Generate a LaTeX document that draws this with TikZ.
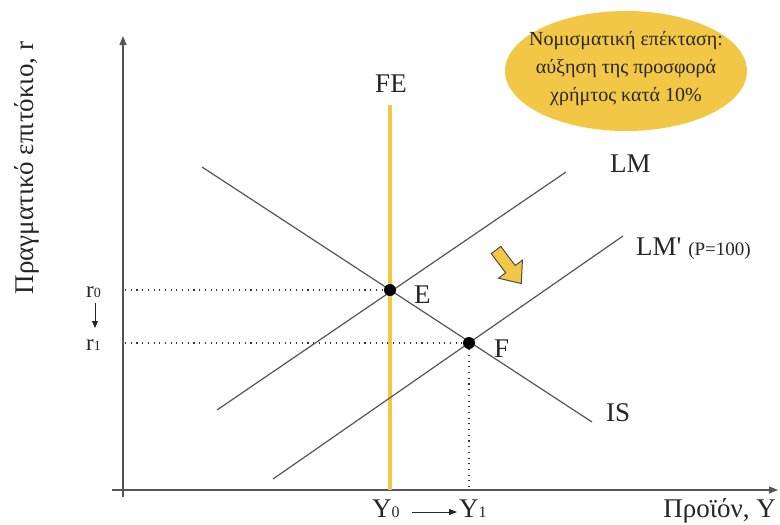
\documentclass[tikz,border=0pt]{standalone}
\usepackage{fontspec}
\setmainfont{Liberation Serif}
\usetikzlibrary{arrows.meta}
\definecolor{gold}{HTML}{F3C746}
\definecolor{curvegray}{HTML}{555555}

\begin{document}
\begin{tikzpicture}[
    x=1pt, y=-1pt,
    curve/.style={draw=curvegray, line width=1.2pt},
    axis/.style={draw=curvegray, line width=1.2pt, -{Triangle[length=9pt,width=7pt]}},
    guide/.style={draw=black!80, line width=1.1pt, dash pattern=on 1.1pt off 4.6pt},
    dot/.style={circle, fill=black, inner sep=0pt, minimum size=12pt},
    lbl/.style={font=\fontsize{27}{29}\selectfont, inner sep=0pt, text=black!85},
    every node/.style={text=black!85}
]
\useasboundingbox[fill=white] (0,0) rectangle (780,525);

% Axes
\coordinate (ybot) at (123,497);
\coordinate (ytop) at (123,36);
\coordinate (xbeg) at (112,490);
\coordinate (xend) at (778,490);
\draw[axis] (ybot) -- (ytop);
\draw[axis] (xbeg) -- (xend);
\node[lbl, rotate=90] (ylabel) at (27,168) {Πραγματικό επιτόκιο, r};
\node[lbl, anchor=base east] (xlabel) at (776,517) {Προϊόν, Y};

% FE line
\coordinate (fetop) at (390,105);
\coordinate (febot) at (390,490);
\draw[draw=gold, line width=4pt] (fetop) -- (febot);
\node[lbl, anchor=base] (fe) at (391,92) {FE};

% IS, LM, LM'
\coordinate (is1) at (202,167);
\coordinate (is2) at (592,422);
\coordinate (lm1) at (217,410);
\coordinate (lm2) at (566,172);
\coordinate (lmp1) at (273,479);
\coordinate (lmp2) at (623,236);
\draw[curve] (is1) -- (is2);
\draw[curve] (lm1) -- (lm2);
\draw[curve] (lmp1) -- (lmp2);
\node[lbl, anchor=base west] (islbl) at (606,421) {IS};
\node[lbl, anchor=base west] (lmlbl) at (610,172) {LM};
\node[lbl, anchor=base west] (lmplbl) at (636,255)
    {LM\textquotesingle\ {\fontsize{19}{21}\selectfont (P=100)}};

% Equilibria
\node[dot] (E) at (390,290) {};
\node[dot] (F) at (469,343) {};
\node[lbl, anchor=base west] (elbl) at (414,303) {E};
\node[lbl, anchor=base west] (flbl) at (494,357) {F};

% Guides
\coordinate (r0ax) at (125,290);
\coordinate (r1ax) at (125,343);
\coordinate (y1ax) at (469,488);
\draw[guide] (r0ax) -- (E);
\draw[guide] (r1ax) -- (F);
\draw[guide] (F) -- (y1ax);

% Axis values
\node[lbl, anchor=base west, font=\fontsize{23}{25}\selectfont] (r0) at (86,297)
    {r{\fontsize{14}{16}\selectfont 0}};
\node[lbl, anchor=base west, font=\fontsize{23}{25}\selectfont] (r1) at (86,350)
    {r{\fontsize{14}{16}\selectfont 1}};
\node[lbl, anchor=base west] (y0) at (372,517) {Y{\fontsize{16}{18}\selectfont 0}};
\node[lbl, anchor=base west] (y1) at (459,517) {Y{\fontsize{16}{18}\selectfont 1}};
\coordinate (ra) at (95,303);
\coordinate (rb) at (95,328);
\coordinate (ya) at (412,512);
\coordinate (yb) at (457,512);
\draw[draw=black!85, line width=1pt, -{Triangle[length=7pt,width=6pt]}] (ra) -- (rb);
\draw[draw=black!85, line width=1pt, -{Triangle[length=8pt,width=6pt]}] (ya) -- (yb);

% Shift arrow
\begin{scope}[shift={(496,250)}, rotate=-53]
\draw[fill=gold, draw=black!70, line width=1pt]
    (0,-6) -- (24,-6) -- (24,-15) -- (42,0) -- (24,15) -- (24,6) -- (0,6) -- cycle;
\end{scope}

% Note
\fill[gold] (626,71) ellipse [x radius=121, y radius=60];
\node[align=center, inner sep=0pt, font=\fontsize{20}{28}\selectfont] (note) at (626,69)
    {Νομισματική επέκταση:\\αύξηση της προσφορά\\χρήμτος κατά 10\%};

\end{tikzpicture}
\end{document}
